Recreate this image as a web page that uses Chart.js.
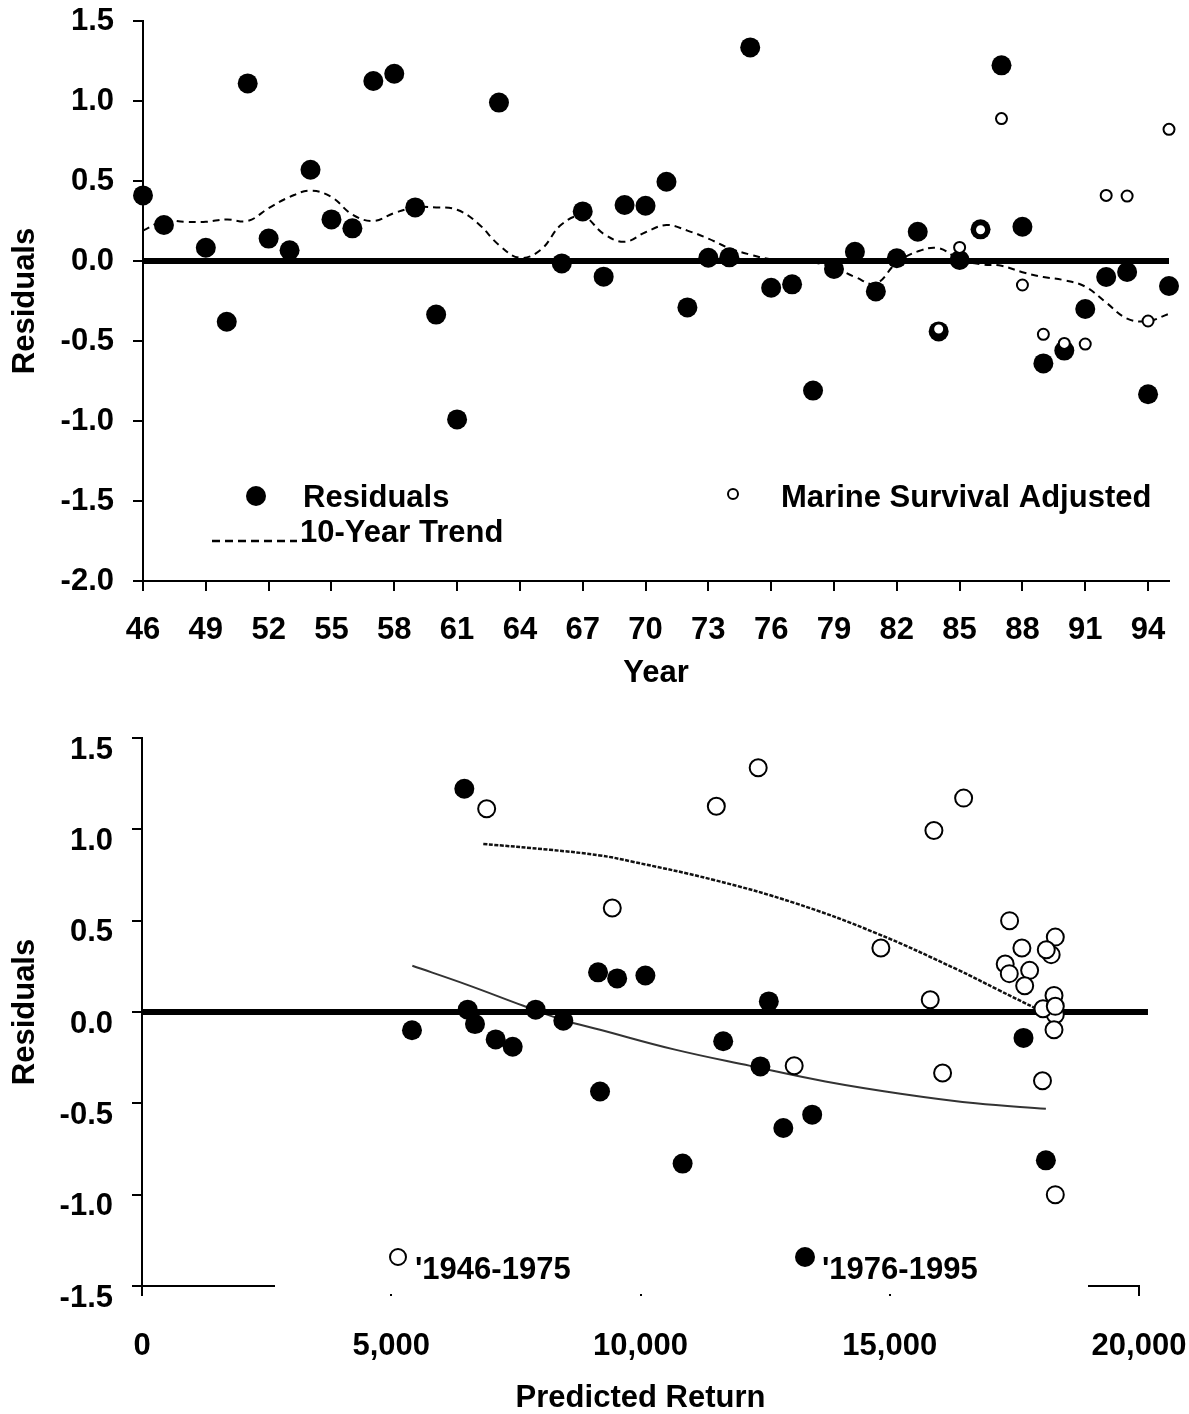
<!DOCTYPE html>
<html><head><meta charset="utf-8">
<script src="https://cdn.jsdelivr.net/npm/chart.js@4.4.1/dist/chart.umd.min.js"></script>
<style>
html,body{margin:0;padding:0;background:#fff;width:1189px;height:1414px;overflow:hidden;position:relative;}
canvas{position:absolute;left:0;}
#c1{top:0}
#c2{top:700px}
</style></head><body>
<canvas id="c1" width="1189" height="700"></canvas>
<canvas id="c2" width="1189" height="714"></canvas>
<script>
const FONT = '"Liberation Sans", Arial, Helvetica, sans-serif';

// ---------- top panel data ----------
const residualYears = [46,47,49,50,51,52,53,54,55,56,57,58,59,60,61,63,66,67,68,69,70,71,72,73,74,75,76,77,78,79,80,81,82,83,84,85,86,87,88,89,90,91,92,93,94,95];
const residualValues = [0.41,0.225,0.083,-0.38,1.11,0.14,0.067,0.57,0.26,0.204,1.125,1.17,0.335,-0.335,-0.99,0.99,-0.015,0.31,-0.098,0.35,0.345,0.495,-0.29,0.02,0.023,1.335,-0.167,-0.146,-0.81,-0.05,0.058,-0.19,0.017,0.183,-0.44,0.006,0.198,1.223,0.214,-0.64,-0.56,-0.30,-0.10,-0.069,-0.833,-0.156];
const adjustedYears = [84,85,86,87,88,89,90,91,92,93,94,95];
const adjustedValues = [-0.425,0.085,0.195,0.89,-0.15,-0.458,-0.515,-0.519,0.41,0.406,-0.375,0.823];
const trendYears = [46,47,48,49,50,51,52,53,54,55,56,57,58,59,60,61,62,63,64,65,66,67,68,69,70,71,72,73,74,75,76,77,78,79,80,81,82,83,84,85,86,87,88,89,90,91,92,93,94,95];
const trendValues = [0.19,0.25,0.245,0.245,0.26,0.25,0.33,0.40,0.44,0.40,0.29,0.25,0.30,0.335,0.335,0.32,0.235,0.10,0.02,0.07,0.23,0.28,0.17,0.12,0.18,0.225,0.19,0.14,0.08,0.04,0.01,0.0,-0.01,-0.04,-0.10,-0.14,-0.01,0.06,0.08,0.01,-0.02,-0.03,-0.07,-0.10,-0.12,-0.16,-0.26,-0.36,-0.375,-0.33];
const topZeroYears = [46,95];
const topXTicks = [46,49,52,55,58,61,64,67,70,73,76,79,82,85,88,91,94];
const topYTicks = [-2.0,-1.5,-1.0,-0.5,0.0,0.5,1.0,1.5];

// ---------- bottom panel data ----------
const earlyReturn = [18321,17806,18295,18064,6914,17707,15812,9434,17316,17398,11521,16482,14822,16060,18321,15886,18321,18238,18295,17651,18140,17404,13083,18074,18321,12361];
const earlyResidual = [0.41,0.228,0.091,-0.376,1.113,0.144,0.067,0.569,0.263,0.21,1.126,1.171,0.35,-0.334,-1.0,0.994,-0.015,0.314,-0.097,0.35,0.341,0.5,-0.294,0.018,0.031,1.337];
const lateReturn = [11659,17683,18132,8452,12574,7436,7897,9532,9188,6533,10098,6466,9149,12865,13444,12405,5416,6680,10845,7095];
const lateResidual = [-0.16,-0.142,-0.812,-0.048,0.058,-0.19,0.013,0.184,-0.435,0.013,0.2,1.222,0.217,-0.635,-0.562,-0.298,-0.10,-0.066,-0.83,-0.15];
const upperCurveReturn = [6846,8184,9188,9820,11455,13089,14724,16359,17170,18000];
const upperCurveResidual = [0.92,0.888,0.857,0.824,0.724,0.597,0.432,0.232,0.122,0.01];
const lowerCurveReturn = [5423,6513,7650,8430,9188,10693,12203,13709,15216,16724,18132];
const lowerCurveResidual = [0.253,0.15,0.034,-0.042,-0.097,-0.206,-0.295,-0.38,-0.447,-0.50,-0.53];
const bottomZeroReturn = [0,20180];
const bottomXTicks = [0,5000,10000,15000,20000];
const bottomYTicks = [-1.5,-1.0,-0.5,0.0,0.5,1.0,1.5];

function pts(xs, ys){ return xs.map((x,i)=>({x:x, y:ys[i]})); }
const tickFont = {family:FONT, size:31, weight:'bold'};
const titleFont = {family:FONT, size:31, weight:'bold', lineHeight:1};
const gridOpt = {display:true, drawOnChartArea:false, drawTicks:true, tickLength:10, tickWidth:2, tickColor:'#000', color:'#000', lineWidth:2};
const borderOpt = {display:true, color:'#000', width:2};
function noPad(s){ s.paddingTop = 0; s.paddingBottom = 0; s.paddingLeft = 0; s.paddingRight = 0; }

function xAxis(min,max,ticks,fmt,pad,title,titlePad,height){
  return {type:'linear', position:'bottom', min:min, max:max,
    afterBuildTicks: s => { s.ticks = ticks.map(v=>({value:v})); },
    afterFit: s => { s.height = height; noPad(s); },
    ticks:{autoSkip:false, maxRotation:0, minRotation:0, padding:pad, color:'#000', font:tickFont, callback: fmt},
    grid:gridOpt, border:borderOpt,
    title:{display:true, text:title, color:'#000', font:titleFont, padding:{top:0,bottom:titlePad}}
  };
}
function yAxis(min,max,ticks,labelOffset,width){
  return {type:'linear', position:'left', min:min, max:max,
    afterBuildTicks: s => { s.ticks = ticks.map(v=>({value:v})); },
    afterFit: s => { s.width = width; noPad(s); },
    ticks:{autoSkip:false, padding:19, color:'#000', font:tickFont, labelOffset:labelOffset, callback: v => Number(v).toFixed(1)},
    grid:gridOpt, border:borderOpt,
    title:{display:true, text:'Residuals', color:'#000', font:titleFont, padding:{top:10,bottom:0}}
  };
}
function txt(ctx, s, x, y){
  ctx.save();
  ctx.font = 'bold 31px ' + FONT;
  ctx.fillStyle = '#000';
  ctx.textAlign = 'left';
  ctx.textBaseline = 'alphabetic';
  ctx.fillText(s, x, y);
  ctx.restore();
}
function circle(ctx, x, y, r, filled, bw){
  ctx.save();
  ctx.beginPath();
  ctx.arc(x, y, r, 0, Math.PI*2);
  if (filled){ ctx.fillStyle='#000'; ctx.fill(); }
  else { ctx.fillStyle='#fff'; ctx.fill(); ctx.lineWidth=bw; ctx.strokeStyle='#000'; ctx.stroke(); }
  ctx.restore();
}

const topLegend = {
  id:'topLegend',
  afterDraw(chart){
    const ctx = chart.ctx;
    circle(ctx, 256, 496, 10, true);
    txt(ctx, 'Residuals', 303, 507);
    circle(ctx, 733, 494, 5, false, 2);
    txt(ctx, 'Marine Survival Adjusted', 781, 507);
    ctx.save();
    ctx.strokeStyle='#000'; ctx.lineWidth=2.5; ctx.setLineDash([8,5]);
    ctx.beginPath(); ctx.moveTo(212,541); ctx.lineTo(297,541); ctx.stroke();
    ctx.restore();
    txt(ctx, '10-Year Trend', 300, 542);
  }
};

const bottomLegend = {
  id:'bottomLegend',
  afterDraw(chart){
    const ctx = chart.ctx;
    ctx.save(); ctx.fillStyle='#fff'; ctx.fillRect(275, 536, 813, 58); ctx.restore();
    circle(ctx, 398, 557, 8, false, 2);
    txt(ctx, "'1946-1975", 415, 579);
    circle(ctx, 805, 557, 10, true);
    txt(ctx, "'1976-1995", 822, 579);
  }
};

const common = {
  responsive:false, animation:false, events:[],
  plugins:{legend:{display:false}, tooltip:{enabled:false}},
};

new Chart(document.getElementById('c1'), {
  type:'scatter',
  data:{datasets:[
    {label:'Marine Survival Adjusted', data:pts(adjustedYears, adjustedValues), order:0, clip:false,
     pointRadius:5.5, pointBorderWidth:2, pointBackgroundColor:'#fff', pointBorderColor:'#000', showLine:false},
    {label:'Residuals', data:pts(residualYears, residualValues), order:1, clip:false,
     pointRadius:10, pointBorderWidth:0, pointBackgroundColor:'#000', pointBorderColor:'#000', showLine:false},
    {label:'zero', data:pts(topZeroYears, [0,0]), order:2, showLine:true, borderColor:'#000', borderWidth:6, pointRadius:0, clip:false},
    {label:'10-Year Trend', data:pts(trendYears, trendValues), order:3, showLine:true, borderColor:'#000',
     borderWidth:2, borderDash:[7,5], tension:0.4, pointRadius:0}
  ]},
  options:Object.assign({}, common, {
    layout:{autoPadding:false, padding:{top:21, right:20, bottom:0, left:0}},
    scales:{
      x: xAxis(46, 95, topXTicks, v => String(v), 21, 'Year', 11, 119),
      y: yAxis(-2.0, 1.5, topYTicks, 0, 143)
    }
  }),
  plugins:[topLegend]
});

new Chart(document.getElementById('c2'), {
  type:'scatter',
  data:{datasets:[
    {label:'1946-1975', data:pts(earlyReturn, earlyResidual), order:0, clip:false,
     pointRadius:8.5, pointBorderWidth:2, pointBackgroundColor:'#fff', pointBorderColor:'#000', showLine:false},
    {label:'1976-1995', data:pts(lateReturn, lateResidual), order:1, clip:false,
     pointRadius:10, pointBorderWidth:0, pointBackgroundColor:'#000', pointBorderColor:'#000', showLine:false},
    {label:'zero', data:pts(bottomZeroReturn, [0,0]), order:2, showLine:true, borderColor:'#000', borderWidth:6, pointRadius:0, clip:false},
    {label:'fit 1946-1975', data:pts(upperCurveReturn, upperCurveResidual), order:3, showLine:true, borderColor:'#111',
     borderWidth:2.5, borderDash:[4,1.5], tension:0.4, pointRadius:0},
    {label:'fit 1976-1995', data:pts(lowerCurveReturn, lowerCurveResidual), order:4, showLine:true, borderColor:'#333',
     borderWidth:2, tension:0.4, pointRadius:0}
  ]},
  options:Object.assign({}, common, {
    layout:{autoPadding:false, padding:{top:38, right:50, bottom:0, left:0}},
    scales:{
      x: xAxis(0, 20000, bottomXTicks, v => Number(v).toLocaleString('en-US'), 32, 'Predicted Return', 0.5, 128),
      y: yAxis(-1.5, 1.5, bottomYTicks, 12, 142)
    }
  }),
  plugins:[bottomLegend]
});
</script>
</body></html>
